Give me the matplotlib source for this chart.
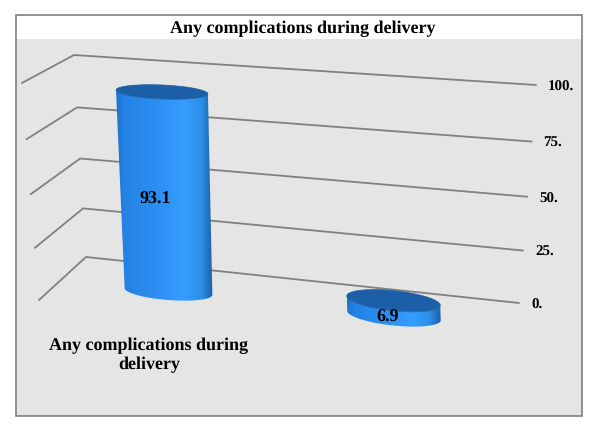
import numpy as np
import matplotlib
matplotlib.use("Agg")
import matplotlib.pyplot as plt
from matplotlib.colors import LinearSegmentedColormap
from matplotlib.patches import Polygon, Rectangle

# ---- data ----
title = "Any complications during delivery"
category = "Any complications during\ndelivery"
values = [93.1, 6.9]
value_labels = ["93.1", "6.9"]
ticks = [0, 25, 50, 75, 100]
tick_labels = ["0.", "25.", "50.", "75.", "100."]

# ---- layout (pixel space) ----
W, H = 596, 433
plt.rcParams["font.family"] = ["Liberation Serif", "DejaVu Serif"]
plt.rcParams["text.hinting"] = "no_hinting"
plt.rcParams["text.hinting_factor"] = 1
fig = plt.figure(figsize=(W / 100, H / 100), dpi=100, facecolor="white")
ax = fig.add_axes([0, 0, 1, 1])
ax.axis("off")

GRID = "#808080"
ax.add_patch(Rectangle((16, 15), 566, 401, fc="white", ec="none", zorder=0))
ax.add_patch(Rectangle((16, 39), 566, 377, fc="#e5e5e5", ec="none", zorder=0.5))
ax.add_patch(Rectangle((16, 15), 566, 401, fc="none", ec=GRID, lw=1.2, zorder=10))

ax.text(303, 28.5, title, ha="center", va="center", fontsize=12.72, fontweight="bold", color="black")


def scale(v):
    s = v / 100
    return s + 0.05 * s * (s - 1)


# gridline corners at value 0 and value 100
FL = np.array([[39, 300], [22, 83]], float)
BL = np.array([[86, 257], [74, 55]], float)
RT = np.array([[519, 303], [536, 85]], float)


def corner(c, v):
    return c[0] + (c[1] - c[0]) * scale(v)


for v, lab in zip(ticks, tick_labels):
    pts = np.array([corner(FL, v), corner(BL, v), corner(RT, v)])
    ax.plot(pts[:, 0], pts[:, 1], color=GRID, lw=1.3, zorder=1, solid_capstyle="round")
    ax.text(pts[2, 0] + 12, pts[2, 1] + 2, lab, ha="left", va="center",
            fontsize=10.8, fontweight="bold", color="black")

cmap = LinearSegmentedColormap.from_list(
    "cyl", [(0, "#1f72cc"), (0.08, "#2382e4"), (0.45, "#2e90f4"), (0.70, "#359eff"),
            (0.88, "#2e8fe8"), (1, "#1c5fa6")])
TOP = "#1c5fa6"
PX_PER_UNIT = 2.143


def ellipse(cx, cy, a, b, tilt_deg, th):
    t = np.deg2rad(tilt_deg)
    u = a * np.cos(th)
    w = b * np.sin(th)
    return cx + u * np.cos(t) - w * np.sin(t), cy + u * np.sin(t) + w * np.cos(t)


def cylinder(value, bx, by, a_bot, b_bot, tilt_bot, a_top, b_top, tilt_top, lean):
    top_x = bx - lean * value / 100
    top_y = by - value * PX_PER_UNIT
    th = np.linspace(np.pi, 0, 120)  # front half, left to right (y down)
    xb, yb = ellipse(bx, by, a_bot, b_bot, tilt_bot, th)
    xt, yt = ellipse(top_x, top_y, a_top, b_top, tilt_top, th)
    outline = np.r_[np.c_[xb, yb], np.c_[xt[::-1], yt[::-1]]]
    clip = Polygon(outline, fc="none", ec="none", transform=ax.transData)
    ax.add_patch(clip)
    x0, x1 = outline[:, 0].min(), outline[:, 0].max()
    y0, y1 = outline[:, 1].min(), outline[:, 1].max()
    frac = np.linspace(0, 1, 256)
    im = ax.imshow(frac[None, :], cmap=cmap, vmin=0, vmax=1, aspect="auto",
                   extent=(x0, x1, y1, y0), zorder=2, interpolation="bilinear")
    im.set_clip_path(clip)
    full = np.linspace(0, 2 * np.pi, 160)
    xe, ye = ellipse(top_x, top_y, a_top, b_top, tilt_top, full)
    ax.add_patch(Polygon(np.c_[xe, ye], fc=TOP, ec=TOP, lw=0.5, zorder=3))


cylinder(values[0], 168.5, 291.5, 44, 8.5, 4.5, 46, 7, 2.5, 7)
cylinder(values[1], 394, 315.5, 47, 10, 6, 47, 10, 6, 7)

ax.set_xlim(0, W)
ax.set_ylim(H, 0)

ax.text(155.5, 199, value_labels[0], ha="center", va="center", fontsize=13.2, fontweight="bold", color="black", zorder=5)
ax.text(388, 317, value_labels[1], ha="center", va="center", fontsize=13.2, fontweight="bold", color="black", zorder=5)
ax.text(149, 355.5, category, ha="center", va="center", fontsize=12.72, fontweight="bold",
        color="black", linespacing=1.25, zorder=5)

fig.savefig("out.png", dpi=100, facecolor="white")
